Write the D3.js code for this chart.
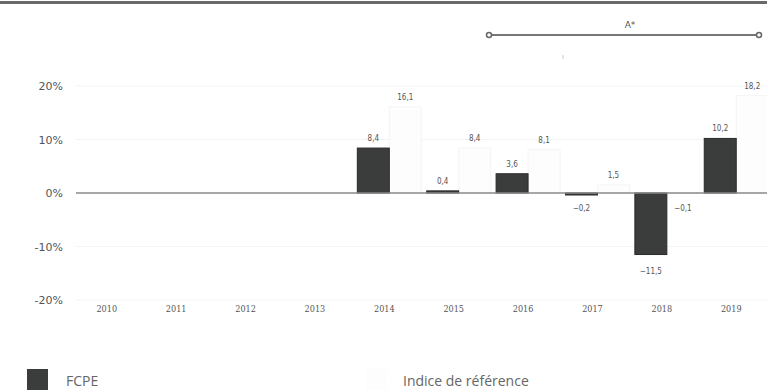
<!DOCTYPE html>
<html><head><meta charset="utf-8">
<script src="https://cdn.jsdelivr.net/npm/d3@7"></script>
<style>body{margin:0;background:#fff;}svg{display:block;}</style>
</head><body>
<svg id="c" width="767" height="390"></svg>
<script>
const years = ["2010","2011","2012","2013","2014","2015","2016","2017","2018","2019"];
const fcpe =  [null,null,null,null,8.4,0.4,3.6,-0.2,-11.5,10.2];
const indice = [null,null,null,null,16.1,8.4,8.1,1.5,-0.1,18.2];
const yTicks = [20,10,0,-10,-20];
const seriesNames = ["FCPE","Indice de référence"];
const annotation = "A*";

const svg = d3.select("#c");
const x = d3.scaleBand().domain(years).range([77, 771]).paddingInner(0.078).paddingOuter(0.04);
const xs = d3.scaleBand().domain(["fcpe","indice"]).range([0, x.bandwidth()]);
const y = d3.scaleLinear().domain([-20,20]).range([300, 86]);
const fmt = v => d3.format(".1f")(v).replace(".", ",");

// top border
svg.append("rect").attr("x",0).attr("y",1).attr("width",767).attr("height",3).attr("fill","#6a6a6a");

// gridlines
svg.append("g").selectAll("line").data(yTicks.filter(t=>t!==0)).join("line")
  .attr("x1",76).attr("x2",767).attr("y1",d=>y(d)).attr("y2",d=>y(d))
  .attr("stroke","#f3f3f3").attr("stroke-width",1);

// y axis
const yAxis = d3.axisLeft(y).tickValues(yTicks).tickFormat(d=>d+"%").tickSize(0).tickPadding(0);
const gy = svg.append("g").attr("transform","translate(63,0)").call(yAxis);
gy.select(".domain").remove();
gy.selectAll("text").attr("font-family","DejaVu Sans").attr("font-size",11).attr("fill","#555");

// index bars (very pale)
svg.append("g").selectAll("rect").data(years.map((yr,i)=>({yr,v:indice[i]})).filter(d=>d.v!==null)).join("rect")
  .attr("x",d=>x(d.yr)+xs("indice")).attr("width",xs.bandwidth())
  .attr("y",d=>y(Math.max(0,d.v))).attr("height",d=>Math.abs(y(d.v)-y(0)))
  .attr("fill","#fdfdfd").attr("stroke","#f4f4f4").attr("stroke-width",1);

// fcpe bars
svg.append("g").selectAll("rect").data(years.map((yr,i)=>({yr,v:fcpe[i]})).filter(d=>d.v!==null)).join("rect")
  .attr("x",d=>x(d.yr)+xs("fcpe")).attr("width",xs.bandwidth())
  .attr("y",d=>y(Math.max(0,d.v))).attr("height",d=>Math.max(2,Math.abs(y(d.v)-y(0))))
  .attr("fill","#3a3d3c").attr("stroke","#2a2a2a").attr("stroke-width",1);

// zero line
svg.append("line").attr("x1",76).attr("x2",767).attr("y1",y(0)).attr("y2",y(0))
  .attr("stroke","#8a8a8a").attr("stroke-width",1.5);

// value labels
function labels(arr,key){
  svg.append("g").selectAll("text").data(years.map((yr,i)=>({yr,v:arr[i]})).filter(d=>d.v!==null)).join("text")
    .attr("x",d=>x(d.yr)+xs(key)+xs.bandwidth()/2)
    .attr("y",d=>d.v>=0 ? y(d.v)-7 : (key==="fcpe" && d.v<-1 ? y(d.v)+19 : y(0)+18))
    .attr("text-anchor","middle").attr("font-family","DejaVu Sans Condensed, DejaVu Sans").attr("font-size",8)
    .attr("fill","#555").text(d=>fmt(d.v));
}
labels(fcpe,"fcpe");
labels(indice,"indice");

// x axis
const xAxis = d3.axisBottom(x).tickSize(0).tickPadding(0);
const gx = svg.append("g").attr("transform","translate(-5,"+(y(-20)+6)+")").call(xAxis);
gx.select(".domain").remove();
gx.selectAll("text").attr("font-family","DejaVu Serif Condensed, DejaVu Serif").attr("font-size",9).attr("fill","#555");

// annotation
const ax1 = 487, ax2 = 757;
svg.append("line").attr("x1",ax1).attr("x2",ax2).attr("y1",35).attr("y2",35).attr("stroke","#777").attr("stroke-width",2);
svg.append("circle").attr("cx",ax1+2).attr("cy",35).attr("r",2.5).attr("fill","#fff").attr("stroke","#666").attr("stroke-width",1.5);
svg.append("circle").attr("cx",ax2+2).attr("cy",35).attr("r",2.5).attr("fill","#fff").attr("stroke","#666").attr("stroke-width",1.5);
svg.append("text").attr("x",(ax1+ax2)/2+8).attr("y",28).attr("text-anchor","middle")
  .attr("font-family","DejaVu Sans").attr("font-size",9).attr("fill","#555").text(annotation);
svg.append("line").attr("x1",563).attr("x2",563).attr("y1",55).attr("y2",59).attr("stroke","#ccc");

// legend
svg.append("rect").attr("x",27).attr("y",369).attr("width",21).attr("height",22).attr("fill","#3a3d3c");
svg.append("text").attr("x",66).attr("y",386).attr("font-family","Open Sans").attr("font-size",14).attr("fill","#666").text(seriesNames[0]);
svg.append("rect").attr("x",366).attr("y",369).attr("width",21).attr("height",22).attr("fill","#fdfdfd");
svg.append("text").attr("x",403).attr("y",386).attr("font-family","Open Sans").attr("font-size",14).attr("fill","#666").text(seriesNames[1]);
</script>
</body></html>
